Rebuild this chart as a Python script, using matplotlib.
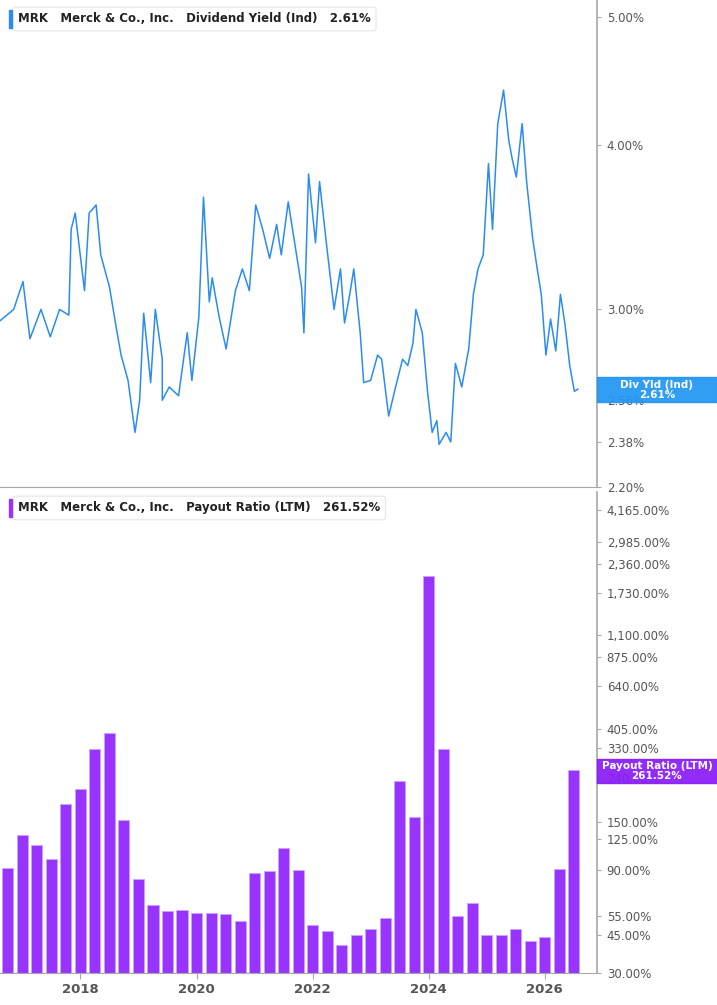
import matplotlib.pyplot as plt
import numpy as np

# dividend yield (%)
yld_t = [2016.61, 2016.85, 2017.01, 2017.13, 2017.32, 2017.48, 2017.64, 2017.80, 2017.84, 2017.91,
         2018.07, 2018.15, 2018.27, 2018.35, 2018.50, 2018.62, 2018.70, 2018.82, 2018.94, 2019.02,
         2019.09, 2019.21, 2019.29, 2019.41, 2019.41, 2019.53, 2019.69, 2019.84, 2019.92, 2020.04,
         2020.12, 2020.22, 2020.27, 2020.39, 2020.51, 2020.67, 2020.79, 2020.91, 2021.02, 2021.14,
         2021.26, 2021.38, 2021.46, 2021.58, 2021.81, 2021.85, 2021.93, 2022.05, 2022.12, 2022.25,
         2022.37, 2022.48, 2022.55, 2022.64, 2022.71, 2022.82, 2022.88, 2023.00, 2023.12, 2023.19,
         2023.31, 2023.43, 2023.55, 2023.64, 2023.73, 2023.78, 2023.89, 2023.98, 2024.06, 2024.14,
         2024.18, 2024.30, 2024.38, 2024.46, 2024.57, 2024.69, 2024.77, 2024.85, 2024.94, 2025.03,
         2025.10, 2025.19, 2025.29, 2025.38, 2025.44, 2025.51, 2025.61, 2025.69, 2025.79, 2025.87,
         2025.94, 2026.02, 2026.10, 2026.19, 2026.27, 2026.35, 2026.43, 2026.51, 2026.57]
yld_v = [2.94, 3.00, 3.15, 2.85, 3.00, 2.86, 3.00, 2.97, 3.45, 3.55,
         3.10, 3.55, 3.60, 3.30, 3.12, 2.90, 2.77, 2.65, 2.42, 2.56,
         2.98, 2.64, 3.00, 2.75, 2.56, 2.62, 2.58, 2.88, 2.65, 2.96,
         3.65, 3.04, 3.17, 2.96, 2.80, 3.10, 3.22, 3.10, 3.60, 3.45,
         3.28, 3.48, 3.30, 3.62, 3.12, 2.88, 3.80, 3.37, 3.75, 3.33,
         3.00, 3.22, 2.93, 3.08, 3.22, 2.88, 2.64, 2.65, 2.77, 2.75,
         2.49, 2.62, 2.75, 2.72, 2.83, 3.00, 2.88, 2.60, 2.42, 2.47,
         2.37, 2.42, 2.38, 2.73, 2.62, 2.80, 3.08, 3.22, 3.30, 3.87,
         3.45, 4.15, 4.40, 4.03, 3.90, 3.78, 4.15, 3.74, 3.40, 3.22,
         3.08, 2.77, 2.95, 2.79, 3.08, 2.92, 2.72, 2.60, 2.61]

# quarterly payout ratio (%)
pay_t = np.arange(2016.75, 2026.51, 0.25)
pay_v = [92, 130, 117, 101, 181, 214, 328, 388, 154, 82,
         62, 58, 59, 57, 57, 56, 52, 87, 89, 114,
         90, 50, 47, 40.5, 45, 48, 54, 232, 159, 2070,
         328, 55, 63, 45, 45, 48, 42, 44, 91, 261.52]

yld_ticks = [2.20, 2.38, 2.56, 3.00, 4.00, 5.00]
pay_ticks = [30, 45, 55, 90, 125, 150, 240, 330, 405, 640, 875, 1100, 1730, 2360, 2985, 4165]
years = [2018, 2020, 2022, 2024, 2026]

blue = '#2a8cf0'
purple = '#9933ff'
grey = '#a8a8a8'
txt = '#555555'

fig = plt.figure(figsize=(7.17, 10.05), dpi=100)
W, H = 717, 1005
ax1 = fig.add_axes([0, (H - 487) / H, 597 / W, 487 / H])
ax2 = fig.add_axes([0, (H - 973) / H, 597 / W, (973 - 492) / H])

ax1.plot(yld_t, yld_v, color=blue, lw=1.1)
ax1.set_yscale('log')
ax1.set_ylim(2.2, 5.15)

ax2.bar(pay_t, pay_v, width=0.19, color=purple, edgecolor='#c9a3ff', linewidth=0.6)
ax2.set_yscale('log')
ax2.set_ylim(30, 5060)

for ax, ticks in ((ax1, yld_ticks), (ax2, pay_ticks)):
    ax.set_xlim(2016.614, 2026.90)
    ax.yaxis.tick_right()
    ax.minorticks_off()
    ax.set_yticks(ticks)
    ax.set_yticklabels(['{:,.2f}%'.format(v) for v in ticks])
    ax.tick_params(axis='y', length=3, color=grey, labelsize=8.5, labelcolor=txt, pad=4)
    for s in ('top', 'left'):
        ax.spines[s].set_visible(False)
    ax.spines['right'].set_color(grey)
    ax.spines['bottom'].set_color(grey)
    ax.spines['right'].set_linewidth(1.2)

ax1.set_xticks([])
ax2.set_xticks(years)
ax2.set_xticklabels([str(y) for y in years], fontweight='bold')
ax2.tick_params(axis='x', length=4, color=grey, labelsize=9.5, labelcolor=txt)

# header boxes
for y, label, c in ((19, 'MRK   Merck & Co., Inc.   Dividend Yield (Ind)   2.61%', blue),
                    (508, 'MRK   Merck & Co., Inc.   Payout Ratio (LTM)   261.52%', purple)):
    fig.text(18 / W, 1 - y / H, label, fontsize=8.5, fontweight='bold', color='#222222', va='center',
             bbox=dict(boxstyle='round,pad=0.45,rounding_size=0.2', fc='white', ec='#e6e6e6', lw=0.8),
             zorder=10)
    fig.patches.append(plt.Rectangle((9 / W, 1 - (y + 9) / H), 3 / W, 18 / H,
                                     transform=fig.transFigure, color=c, zorder=11))

# last value tags, drawn over the tick labels
for y0, y1, label, c in ((377, 402, 'Div Yld (Ind)\n2.61%', '#2196f3'),
                         (759, 783, 'Payout Ratio (LTM)\n261.52%', '#8a1cf7')):
    fig.patches.append(plt.Rectangle((597 / W, 1 - y1 / H), 120 / W, (y1 - y0) / H,
                                     transform=fig.transFigure, color=c, alpha=0.93, zorder=10))
    fig.text(657 / W, 1 - (y0 + y1) / 2 / H, label, ha='center', va='center', fontsize=7.5,
             fontweight='bold', color='white', linespacing=1.0, zorder=11)

fig.savefig('out.png', dpi=100)
